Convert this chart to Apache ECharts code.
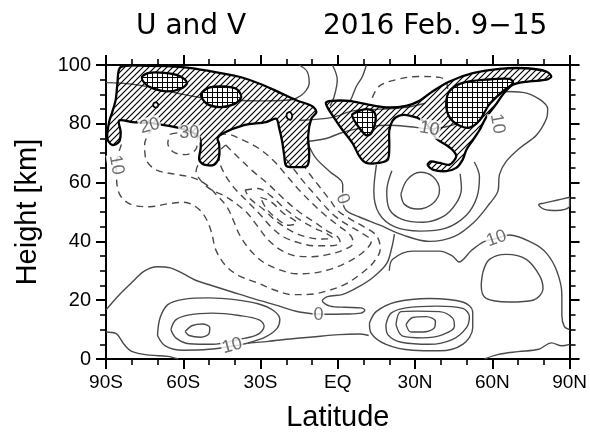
<!DOCTYPE html>
<html>
<head>
<meta charset="utf-8">
<script src="https://cdn.jsdelivr.net/npm/echarts@6/dist/echarts.min.js"></script>
<style>
  html, body { margin: 0; padding: 0; background: #fff; }
  #chart { width: 590px; height: 437px; }
</style>
</head>
<body>
<div id="chart"></div>
<script>
// ---- U contours, points are [latitude, height km] ----
// solid (U >= 0)
const shZero = [[-90,16.7],[-85,21.7],[-80,26],[-75,30],[-70,31.4],[-65,31],[-60,29],[-55,26.7],[-49,25],[-41,22.8],[-33,20.6],[-24,18.3],[-15,16],[-5,15.2],[3,15.3],[9,15.6],[10.5,16.6],[9,17.4],[3,17.6],[-3,18],[-6,19.8],[-4,21.2],[2,22],[8,24.5],[14,28],[19,32.5],[21,38],[22,42.5]]
const shLow = [[-90,9.2],[-86,8.6],[-83,5],[-80,2.6],[-73,1.3],[-66,0.9],[-62,0]]
const shJet1 = [[-59.3,9.4],[-56.4,11.4],[-52.6,11.9],[-49.7,10.6],[-50,8.6],[-53.2,7.4],[-57.7,8],[-59.3,9.4]]
const shJet2 = [[-64.8,10],[-62.9,13.3],[-57.7,15],[-48.7,15.6],[-38.3,14.8],[-30.5,13.3],[-28.6,11.1],[-31.2,8.3],[-38.3,6.7],[-48.7,5],[-57.7,5.2],[-62.9,7.2],[-64.8,10]]
const shJet3 = [[-70,8],[-69,14],[-66,18.5],[-60,20.3],[-50,20.8],[-40,20.2],[-31,18.8],[-25,16.5],[-22.5,13.5],[-23.5,10.5],[-28,7.5],[-35,5.4],[-41,4.4],[-50,3.3],[-60,3],[-67,4.5],[-70,8]]
const eqTen = [[-35,5.4],[-27,6],[-20,6.7],[-10,7.5],[0.6,8.3],[8,8.5],[12,8]]
const nhJet1 = [[26.5,11.7],[29.1,14.1],[34.3,14.4],[37.9,12.8],[37.5,10.6],[33,9.2],[28.4,9.2],[26.5,11.7]]
const nhJet2 = [[22.6,11.7],[24.5,16.1],[30.4,16.3],[39.5,16.1],[44.6,13.9],[45.3,11.1],[40.8,8.3],[33,7.2],[25.2,7.8],[22.6,11.7]]
const nhJet3 = [[18.7,11.7],[20.7,15.6],[26.5,17.4],[38.2,18],[48.5,17.2],[51.1,14.4],[49.9,10.6],[44.6,6.7],[35.6,5],[25.2,5.6],[19.4,8.3],[18.7,11.7]]
const nhJet4 = [[12.3,12.2],[14.9,16.1],[22.6,19.4],[35.6,20.6],[48.5,19.4],[52.4,16.1],[52.4,10.6],[48.5,5],[39.5,2.8],[29.1,3],[18.7,5],[12.9,8.9],[12.3,12.2]]
const nhLow = [[57,0],[62,1.5],[70,2.5],[78,3.3],[83,5.5],[87,4.5],[90,5]]
const nhPolar = [[56.3,29.4],[58.9,33.9],[65.4,35.6],[73.2,33.9],[78.4,28.3],[79.7,23.9],[75.8,20],[66.7,19.4],[57.6,20.6],[55.7,25],[56.3,29.4]]
const nhTen = [[20,30],[21.3,33.9],[29.1,36.7],[39.5,36.7],[44.6,35],[47,33],[52,37],[57,40],[61.6,41],[66.7,42.2],[75.8,39.4],[81,36],[85,30],[87,22],[87,15],[88,11],[90,10]]
const nhZero = [[-12,74],[-8.5,68.3],[-3.3,63.9],[1.9,59.4],[1.9,54.4],[3.2,50.6],[8.4,48.3],[16.1,45.6],[25.2,42.2],[35.6,40],[45.3,41.7],[53.1,46.7],[58.9,52.8],[62.2,57.2],[62.8,62.8],[65.4,67.2],[70.6,71.7],[77.1,76.1],[81,81.7],[81.5,85],[78.4,88.3],[71.7,90.7],[64.1,91]]
const nhOval = [[24.5,56],[27,61],[32,63.5],[37,62],[39.5,57.5],[37,53],[31,51],[26,52.5],[24.5,56]]
const nhRing1 = [[21,64],[19,57],[20,51],[25,47.5],[33,46.5],[41,48.5],[46,53],[48,58],[47.5,63]]
const nhRing2 = [[15,66],[14,57],[16,49.5],[22,45],[32,43.5],[42,44.5],[50,49],[54,55],[55,62],[53,67]]
const nhTongue = [[80,53],[85,54],[90,55],[90,52],[85,50.5],[80,51],[78,52.5],[80,53]]
const midA = [[-11.8,74],[-4.5,75],[0.6,76.7],[6,78],[12,79],[20,79.5],[28,79],[35.6,78.3],[42,79],[48,80.5]]
const midB = [[-15,81.1],[-2,82.2],[5.8,84.4],[16.1,85],[26,85.5],[34,87]]
const topA = [[-90,94],[-80,93.5],[-70,92],[-60,90],[-50,88.5],[-40,88],[-30,87.8],[-20,88],[-16.3,88.6],[-13,90.6],[-11.1,93.9],[-11.9,97.8],[-15,100]]
const topB = [[-2.1,100],[-0.2,95],[-1.4,89.3],[-3,86]]
const topC = [[11.1,100],[9.5,96],[7.2,92.7],[5.6,89.3],[4.5,87.3]]
// dashed (U < 0)
const neg10 = [[-84,73],[-86,66],[-85.7,59],[-84,55],[-80,52.5],[-73,51.8],[-66,52.8],[-60,53.3],[-55,51.7],[-51.5,48.3],[-49,43],[-47.4,37.2],[-43.5,31.7],[-38.3,28.3],[-31.8,26.1],[-24,23.3],[-17.6,21.9],[-11,22],[-4,23.2],[3,25.5],[9,29],[14,33],[16.5,37.5],[15,42],[10,45],[5,47.5],[0,50.5],[-3,54],[-7,58.5],[-11,63],[-13,65.5]]
const neg20 = [[-72,78.5],[-75,73],[-74.6,68.3],[-70.7,64.4],[-62.9,62.8],[-56.4,61.7],[-51.2,59.4],[-47.4,56.1],[-43,51.7],[-40.5,47],[-38,42],[-34,37],[-29,33],[-23,30.5],[-16,29],[-9.8,29.2],[-3,30.5],[4,33],[10,36.5],[13,40],[9,43],[4,45.5],[-1,48.5],[-5,52],[-9,56],[-13,60],[-17,64.5],[-21,69]]
const neg30 = [[-46,76],[-43.5,76.5],[-37,74.5],[-30.5,71.5],[-25,67.5],[-20,62.5],[-15,57.5],[-10,53],[-5,49],[0,45.5],[5,42],[6,39.5],[2,37],[-4,35.5],[-10,34.8],[-16,35],[-22,37],[-27,40.5],[-31,45],[-35,49.5],[-39,52.5],[-44,55.5],[-49,57.5],[-53,60.5],[-55,64],[-54,66.5]]
const neg30b = [[-65,76.5],[-61,77],[-57.7,76.7],[-54.5,75],[-55,71.5],[-59,69.5],[-64,70.5],[-66,73.5],[-65,76.5]]
const neg40 = [[-43.5,72.8],[-38.3,68.3],[-33,63.9],[-27,59.5],[-21,54.5],[-15,50],[-9,46.5],[-4,43.5],[0,41.5],[1,39.5],[-3,38.5],[-9,38.5],[-15,39.5],[-21,41.5],[-26,45],[-30,49],[-35,53.5],[-40,58],[-44,63],[-46,68],[-45.5,71],[-43.5,72.8]]
const neg50 = [[-36,57.5],[-31,58],[-26,55.5],[-21,51.5],[-15,47.5],[-9,44.5],[-4,42.5],[-2,41.2],[-6,40.8],[-12,41.5],[-18,43.5],[-24,47],[-29,51],[-34,54.5],[-36,57.5]]
const neg60 = [[-30,55],[-26,53.5],[-21,49.5],[-16,46.3],[-19,45.5],[-24,48],[-28,51.5],[-30,55]]
const nhNeg = [[13.4,88.9],[16.1,92.8],[22.6,95],[31.7,96.1],[39.5,95.8],[42.1,94.4],[42.7,91.1]]

// ---- V shading outlines ----
const vSouth = [[-84.3,99.3],[-73.3,99.7],[-60.5,99.3],[-50,98],[-38.3,96],[-29.3,93.3],[-22.7,90.7],[-16.1,88],[-9.9,86],[-8.3,84],[-10.3,81.7],[-11.5,76],[-11.1,69.3],[-11.9,65.7],[-16.1,65.3],[-20,65.7],[-20.8,69.3],[-21.6,74],[-22.7,78.3],[-23.9,81.7],[-27.9,80.6],[-37,79.4],[-44.8,76.7],[-46.7,75],[-46.1,73.3],[-46.1,68.9],[-48,66.1],[-51.9,66.1],[-53.8,67.8],[-53.2,72.2],[-53.8,75.6],[-60.3,78.3],[-70.7,80],[-79.8,80.6],[-84.9,81.1],[-84.3,77.2],[-84.9,73.9],[-87.6,72.8],[-89.5,75],[-88.8,80.6],[-87.6,83.9],[-86.2,88.3],[-85.6,93.3]]
const vNorth = [[-4,85.6],[-4.6,87.2],[-2.6,87.8],[4.5,87.8],[11,86.7],[18.7,85.6],[26.5,86.1],[31.7,87.8],[36.9,91.1],[43.4,94.4],[52.4,97.2],[62.8,98.7],[73.2,98.9],[81,97.8],[82.9,96.1],[81,95],[74.5,94.4],[68,93.3],[64.1,90],[61.5,86.7],[57.6,82.2],[55,77.8],[52.4,74.4],[49.9,71.1],[48.5,67.8],[46,65],[42.1,63.9],[36.9,64.4],[34.9,66.1],[36.2,67.2],[39.5,66.7],[43.4,66.1],[46,68.9],[44.6,71.1],[42.1,72.8],[38.2,75],[36.2,77.8],[33,81.1],[27.8,82.8],[23.9,82.8],[21.3,81.1],[20,77.8],[20,72.2],[19.4,67.8],[16.1,66.7],[11,66.7],[8.4,68.9],[5.8,73.3],[1.9,77.8],[-0.7,81.1]]
const vSouthCore1 = [[-76,96],[-73.3,97.3],[-67.4,97.3],[-61.6,96.3],[-58.5,94],[-60.8,92],[-66.3,91],[-72.5,92.3],[-75.2,94]]
const vSouthCore2 = [[-53.1,90],[-50,92.3],[-44.1,92.7],[-39.1,91.7],[-37.5,89],[-40.2,86.7],[-46.1,85.7],[-51.1,87]]
const vNorthCore1 = [[42.1,86.7],[43.4,91.1],[48.5,93.9],[57.6,95],[66.7,95.3],[68,93.9],[64.1,91.1],[58.9,86.7],[55,81.1],[51.1,78.7],[47.2,79.4],[43.4,82.2]]
const vNorthCore2 = [[5.8,83.3],[11,85],[14.2,83.9],[14.6,80.6],[12.9,76.7],[11,76.1],[7.7,79.4],[5.8,82.2]]
// small closed V rings inside the southern shading
const vDot1 = [[-71.6,86.8],[-70.6,87.3],[-69.7,86.6],[-70.3,85.6],[-71.4,85.8]]
const vDot2 = [[-19.8,83.4],[-18.6,84],[-17.7,82.8],[-18.3,81.4],[-19.6,81.9]]

// ---- contour labels [lat, km, text, rotation] ----
const contourLabels = [[-86,66,'10',-80],[-73,79.3,'20',15],[-57.7,76.7,'30',0],[-7.5,15,'0',0],[-41,4.5,'10',15],[1.9,54.4,'0',-70],[35.6,78.3,'10',-10],[61.6,41,'10',20],[62,80,'10',-80]]

function tickName(v) {
  if (v === 0) return 'EQ'
  return v < 0 ? (-v) + 'S' : v + 'N'
}

function makeHatch() {
  const c = document.createElement('canvas')
  c.width = 6; c.height = 6
  const g = c.getContext('2d')
  g.strokeStyle = '#000'
  g.lineWidth = 1.2
  g.beginPath()
  g.moveTo(-1, 7); g.lineTo(7, -1)
  g.moveTo(-1, 1); g.lineTo(1, -1)
  g.moveTo(5, 7); g.lineTo(7, 5)
  g.stroke()
  return c
}

function makeCross() {
  const c = document.createElement('canvas')
  c.width = 5; c.height = 5
  const g = c.getContext('2d')
  g.fillStyle = '#fff'
  g.fillRect(0, 0, 5, 5)
  g.fillStyle = '#000'
  g.fillRect(0, 2, 5, 1)
  g.fillRect(2, 0, 1, 5)
  return c
}

const hatchFill = { image: makeHatch(), repeat: 'repeat' }
const crossFill = { image: makeCross(), repeat: 'repeat' }

function lineSeries(pts, dashed) {
  return {
    type: 'line', data: pts, showSymbol: false, smooth: 0.35, silent: true, z: 2,
    lineStyle: { color: '#4a4a4a', width: 1.4, type: dashed ? [7, 5] : 'solid' }
  }
}

function areaSeries(pts, fill, z, width) {
  return {
    type: 'custom', data: pts, silent: true, z: z,
    renderItem: function (params, api) {
      if (params.dataIndex !== 0) return null
      const p = pts.map(function (d) { return api.coord(d) })
      return {
        type: 'polygon',
        shape: { points: p, smooth: 0.3 },
        style: { fill: fill, stroke: '#000', lineWidth: width || 2.3 }
      }
    }
  }
}

const solids = [shZero, shLow, shJet1, shJet2, shJet3, eqTen, nhJet1, nhJet2, nhJet3, nhJet4, nhLow, nhPolar, nhTen, nhZero, nhOval, nhRing1, nhRing2, nhTongue, midA, midB, topA, topB, topC]
const dashes = [neg10, neg20, neg30, neg30b, neg40, neg50, neg60, nhNeg]

const series = []
solids.forEach(function (s) { series.push(lineSeries(s, false)) })
dashes.forEach(function (s) { series.push(lineSeries(s, true)) })
series.push(areaSeries(vSouth, hatchFill, 3))
series.push(areaSeries(vNorth, hatchFill, 3))
;[vSouthCore1, vSouthCore2, vNorthCore1, vNorthCore2].forEach(function (s) {
  series.push(areaSeries(s, crossFill, 4))
})
series.push(areaSeries(vDot1, '#fff', 4, 1.8))
series.push(areaSeries(vDot2, '#fff', 4, 1.8))
series.push({
  type: 'scatter', symbolSize: 0, silent: true, z: 5,
  data: contourLabels.map(function (l) {
    return { value: [l[0], l[1]], name: l[2], label: { rotate: l[3] } }
  }),
  label: {
    show: true, position: 'inside', formatter: '{b}', color: '#4a4a4a',
    fontSize: 18, fontFamily: 'Liberation Sans', backgroundColor: '#fff', padding: [0, 1]
  }
})

function axisX(pos, labels) {
  return {
    type: 'value', position: pos, min: -90, max: 90, interval: 30,
    axisLine: { onZero: false, lineStyle: { color: '#000', width: 2 } },
    axisTick: { inside: false, length: 10, lineStyle: { color: '#000', width: 2 } },
    minorTick: { show: true, splitNumber: 3, length: 6, lineStyle: { color: '#000', width: 1.6 } },
    splitLine: { show: false },
    axisLabel: {
      show: labels, formatter: tickName, color: '#000', fontSize: 19,
      fontFamily: 'Liberation Sans', margin: 14
    },
    name: labels ? 'Latitude' : '', nameLocation: 'middle', nameGap: 44,
    nameTextStyle: { fontSize: 29, fontFamily: 'Liberation Sans', color: '#000' }
  }
}

function axisY(pos, labels) {
  return {
    type: 'value', position: pos, min: 0, max: 100, interval: 20,
    axisLine: { onZero: false, lineStyle: { color: '#000', width: 2 } },
    axisTick: { inside: false, length: 10, lineStyle: { color: '#000', width: 2 } },
    minorTick: { show: true, splitNumber: 4, length: 6, lineStyle: { color: '#000', width: 1.6 } },
    splitLine: { show: false },
    axisLabel: {
      show: labels, color: '#000', fontSize: 20, fontFamily: 'Liberation Sans', margin: 15
    },
    name: labels ? 'Height [km]' : '', nameLocation: 'middle', nameGap: 64, nameRotate: 90,
    nameTextStyle: { fontSize: 29, fontFamily: 'Liberation Sans', color: '#000' }
  }
}

const chart = echarts.init(document.getElementById('chart'), null, { renderer: 'canvas' })
chart.setOption({
  animation: false,
  backgroundColor: '#fff',
  title: [
    { text: 'U and V', left: 131, top: 8, textStyle: { fontSize: 28, fontWeight: 'normal', fontFamily: 'DejaVu Sans', color: '#000' } },
    { text: '2016 Feb. 9\u221215', left: 318, top: 8, textStyle: { fontSize: 28, fontWeight: 'normal', fontFamily: 'DejaVu Sans', color: '#000' } }
  ],
  grid: { left: 106, right: 20, top: 65, bottom: 73 },
  xAxis: [axisX('bottom', true), axisX('top', false)],
  yAxis: [axisY('left', true), axisY('right', false)],
  series: series
})
</script>
</body>
</html>
